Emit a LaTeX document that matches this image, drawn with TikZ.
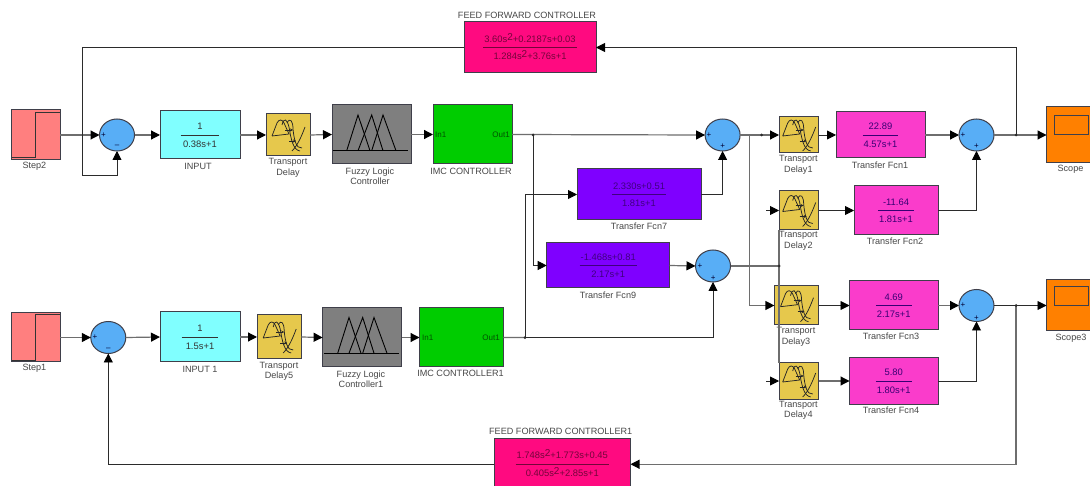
\documentclass[tikz,border=0pt]{standalone}
\usepackage{fontspec}
\setmainfont{Liberation Sans}
\usetikzlibrary{arrows.meta,shapes.geometric}
\definecolor{wiredark}{HTML}{2B2B2B}
\definecolor{wiresoft}{HTML}{6E6E6E}
\definecolor{edgec}{HTML}{3F3F4A}
\definecolor{stepc}{HTML}{FF7F7F}
\definecolor{sumc}{HTML}{58AEF6}
\definecolor{inputc}{HTML}{80FFFF}
\definecolor{delayc}{HTML}{E6C84C}
\definecolor{fuzzyc}{HTML}{7F7F7F}
\definecolor{imcc}{HTML}{00CC00}
\definecolor{ffc}{HTML}{FF0A80}
\definecolor{purc}{HTML}{7F00FF}
\definecolor{tfc}{HTML}{FA3CCB}
\definecolor{scopec}{HTML}{FF8000}
\tikzset{
  x=1pt,y=-1pt,
  blk/.style={draw=edgec,line width=1pt,rectangle,inner sep=0pt,outer sep=0pt,align=center,font=\fontsize{9.4}{11}\selectfont},
  stepb/.style={blk,fill=stepc},
  inputb/.style={blk,fill=inputc,text=black!80},
  delayb/.style={blk,fill=delayc},
  fuzzyb/.style={blk,fill=fuzzyc},
  imcb/.style={blk,fill=imcc,text=black!65!imcc},
  ffb/.style={blk,fill=ffc,text=black!55!ffc},
  purb/.style={blk,fill=purc,text=black!50!purc},
  tfb/.style={blk,fill=tfc,text=black!55!purc},
  scopeb/.style={blk,fill=scopec},
  sumb/.style={ellipse,draw=edgec,line width=1pt,fill=sumc,inner sep=0pt,outer sep=0pt,minimum width=35pt,minimum height=32pt},
  lab/.style={inner sep=0pt,text=black!72,align=center,font=\fontsize{9.1}{10.5}\selectfont},
  sgn/.style={inner sep=0pt,text=black!80!blue,font=\fontsize{8}{8}\selectfont},
  wire/.style={draw=wiredark,line width=.9pt},
  soft/.style={draw=wiresoft,line width=1.2pt},
  arr/.style={-{Triangle[length=9pt,width=9pt,black]}},
  jn/.style={circle,fill=wiredark,inner sep=0pt,minimum size=3pt},
  icon/.style={draw=black!85,line width=.75pt},
}
\newcommand{\blockat}[7]{\node[#2,minimum width={#5-#3},minimum height={#6-#4}] (#1) at ({(#3+#5)/2},{(#4+#6)/2}) {#7};}
\newcommand{\frc}[2]{{\renewcommand{\arraystretch}{1.55}\setlength{\tabcolsep}{1pt}\begin{tabular}{c}#1\\\hline #2\end{tabular}}}
\newcommand{\sq}{\raisebox{2pt}{\fontsize{10}{10}\selectfont 2}}
\newcommand{\delayicon}[2]{\begin{scope}[shift={(#1,#2)}]
  \draw[icon] (-16,1) -- (-11,-12) .. controls (-9,-16) and (-6,-16) .. (-4,-12) -- (1,-1) -- (-16,1);
  \draw[icon] (-6,-10) .. controls (-4,-18) and (-1,-16) .. (1,-8) .. controls (3,4) and (5,15) .. (12,16);
  \draw[icon] (-1,-12) .. controls (2,-18) and (5,-14) .. (5,-6) .. controls (6,4) and (8,14) .. (14,13);
  \draw[icon] (4,16) .. controls (10,10) and (14,0) .. (17,-8);
  \draw[icon,-{Stealth[length=3pt,width=3pt]}] (-3,-5) -- (5,-5);
  \draw[icon,-{Stealth[length=3pt,width=3pt]}] (1,6) -- (8,6);
\end{scope}}
\newcommand{\fuzzyicon}[2]{\begin{scope}[shift={(#1,#2)}]
  \draw[black,line width=.9pt] (-38,15.7) -- (37,15.7);
  \draw[black,line width=.9pt] (-24.3,15.7) -- (-13,-20) -- (-1,15.7);
  \draw[black,line width=.9pt] (-13,15.7) -- (0.7,-20) -- (12,15.7);
  \draw[black,line width=.9pt] (0.7,15.7) -- (12,-20) -- (25,15.7);
\end{scope}}
\begin{document}
\begin{tikzpicture}
\useasboundingbox (0,0) rectangle (1090,486);
\clip (0,0) rectangle (1090,486);
\fill[white] (0,0) rectangle (1090,486);

% top row
\blockat{stepA}{stepb}{11.5}{110}{60}{160}{}
\node[sumb] (sumA) at (117,135) {};
\blockat{inputA}{inputb}{160}{111}{240}{159}{\frc{1}{\,0.38s+1\,}}
\blockat{tdA}{delayb}{266}{114}{310}{156}{}
\blockat{fuzzyA}{fuzzyb}{332}{105}{411}{164}{}
\blockat{imcA}{imcb}{433}{105}{512}{164}{}
\node[inner sep=0pt,text=black!60!imcc,font=\fontsize{8}{9}\selectfont,anchor=west] (inA) at (435,134.5) {In1};
\node[inner sep=0pt,text=black!60!imcc,font=\fontsize{8}{9}\selectfont,anchor=east] (outA) at (510,134.5) {Out1};
\blockat{ffA}{ffb}{464}{22}{596}{73}{\frc{3.60s\sq+0.2187s+0.03}{1.284s\sq+3.76s+1}}

% right top
\node[sumb] (sumB) at (722.6,135) {};
\blockat{tdB}{delayb}{779}{117}{818.5}{153}{}
\blockat{tfA}{tfb}{836}{112}{925}{158}{\frc{22.89}{4.57s+1}}
\node[sumb] (sumC) at (976.5,135) {};
\blockat{scopeA}{scopeb}{1046.5}{107}{1094}{163}{}
\blockat{purA}{purb}{577}{169}{701}{220}{\frc{2.330s+0.51}{1.81s+1}}
\blockat{tdC}{delayb}{779}{191}{818.5}{230}{}
\blockat{tfB}{tfb}{854}{186}{938}{235}{\frc{-11.64}{1.81s+1}}

% middle
\blockat{purB}{purb}{546.7}{243}{669.7}{288}{\frc{-1.468s+0.81}{2.17s+1}}
\node[sumb] (sumD) at (713,266) {};
\blockat{tdD}{delayb}{774.4}{286}{818.5}{325}{}
\blockat{tfC}{tfb}{849.5}{281}{938}{330}{\frc{4.69}{2.17s+1}}
\node[sumb] (sumE) at (976.5,305.5) {};
\blockat{scopeB}{scopeb}{1046.5}{280}{1094}{331}{}
\blockat{tdE}{delayb}{779}{363}{818.5}{399}{}
\blockat{tfD}{tfb}{849.5}{358}{938}{404}{\frc{5.80}{1.80s+1}}

% bottom row
\blockat{stepB}{stepb}{11.5}{313}{60}{362}{}
\node[sumb] (sumF) at (108.3,337.5) {};
\blockat{inputB}{inputb}{160}{312}{240}{362}{\frc{1}{\,\,1.5s+1\,\,}}
\blockat{tdF}{delayb}{257}{315}{301.4}{359}{}
\blockat{fuzzyB}{fuzzyb}{322.6}{308}{401.8}{367}{}
\blockat{imcB}{imcb}{419.5}{308}{503.3}{367}{}
\node[inner sep=0pt,text=black!60!imcc,font=\fontsize{8}{9}\selectfont,anchor=west] (inB) at (422,337.5) {In1};
\node[inner sep=0pt,text=black!60!imcc,font=\fontsize{8}{9}\selectfont,anchor=east] (outB) at (500,337.5) {Out1};
\blockat{ffB}{ffb}{494}{438}{630.5}{490.5}{\frc{1.748s\sq+1.773s+0.45}{0.405s\sq+2.85s+1}}

% icons
\draw[black!80,line width=.9pt] (11.5,157.5) -- (35.5,157.5) -- (35.5,112) -- (60,112);
\draw[black!80,line width=.9pt] (11.5,360) -- (35.5,360) -- (35.5,314.5) -- (60,314.5);
\delayicon{288}{135}\delayicon{798.7}{135}\delayicon{798.7}{210.5}\delayicon{796.5}{305.7}\delayicon{798.7}{381}\delayicon{279.2}{337}
\fuzzyicon{371}{135}\fuzzyicon{362}{337.5}
\draw[edgec,line width=1pt] (1054,116) rectangle (1088,135);
\draw[edgec,line width=1pt] (1054,287) rectangle (1088,305.7);

% sum signs
\node[sgn] (sa1) at (103.5,135) {+};
\node[sgn] (sa2) at (117,146) {--};
\node[sgn] (sb1) at (709,135) {+};
\node[sgn] (sb2) at (722.6,146.5) {+};
\node[sgn] (sc1) at (963,135) {+};
\node[sgn] (sc2) at (976.5,146.5) {+};
\node[sgn] (sd1) at (700,266) {+};
\node[sgn] (sd2) at (713.3,278) {+};
\node[sgn] (se1) at (963,305.5) {+};
\node[sgn] (se2) at (976.5,318) {+};
\node[sgn] (sf1) at (95,337.5) {+};
\node[sgn] (sf2) at (108.3,349.5) {--};

% labels
\node[lab] (lstepA) at (34.4,166) {Step2};
\node[lab] (linA) at (198,166) {INPUT};
\node[lab] (ltdA) at (288,167.7) {Transport\\Delay};
\node[lab] (lfzA) at (370,176.3) {Fuzzy Logic\\Controller};
\node[lab] (limA) at (471,171) {IMC CONTROLLER};
\node[lab] (lffA) at (527,15) {FEED FORWARD CONTROLLER};
\node[lab] (ltdB) at (798.4,165) {Transport\\Delay1};
\node[lab] (ltfA) at (880,165) {Transfer Fcn1};
\node[lab] (lscA) at (1070.5,169) {Scope};
\node[lab] (lpuA) at (639,226) {Transfer Fcn7};
\node[lab] (ltdC) at (798.4,241) {Transport\\Delay2};
\node[lab] (ltfB) at (895,241) {Transfer Fcn2};
\node[lab] (lpuB) at (608,295) {Transfer Fcn9};
\node[lab] (ltdD) at (796,337) {Transport\\Delay3};
\node[lab] (ltfC) at (891,336) {Transfer Fcn3};
\node[lab] (lscB) at (1071,338) {Scope3};
\node[lab] (ltdE) at (798.4,410.5) {Transport\\Delay4};
\node[lab] (ltfD) at (891,410.7) {Transfer Fcn4};
\node[lab] (lstepB) at (34.4,368.7) {Step1};
\node[lab] (linB) at (200,369) {INPUT 1};
\node[lab] (ltdF) at (279,371.5) {Transport\\Delay5};
\node[lab] (lfzB) at (361,379) {Fuzzy Logic\\Controller1};
\node[lab] (limB) at (460.5,373.7) {IMC CONTROLLER1};
\node[lab] (lffB) at (560.7,431) {FEED FORWARD CONTROLLER1};

% junctions
\coordinate (jA) at (533,135);
\coordinate (jB) at (761.7,135);
\coordinate (jBd) at (749.3,135);
\coordinate (jC) at (1016,135);
\coordinate (jD) at (525,337.6);
\coordinate (jE) at (779,266);
\coordinate (jF) at (1016,305.5);
\coordinate (tfbIn) at (766,210.5);
\coordinate (tfdIn) at (766,381);
\coordinate (cfA) at (82,47.5);
\coordinate (cfB) at (82,175);
\coordinate (cfC) at (117,175);
\coordinate (vTop) at (779,230);
\coordinate (vBot) at (779,363);

% wires: top row
\draw[soft,arr] (stepA.east) -- (sumA.west);
\draw[soft,arr] (sumA.east) -- (inputA.west);
\draw[soft,arr] (inputA.east) -- (tdA.west);
\draw[soft,arr] (tdA.east) -- (fuzzyA.west);
\draw[soft,arr] (fuzzyA.east) -- (imcA.west);
\draw[soft,arr] (imcA.east) -- (sumB.west);
\draw[soft] (sumB.east) -- (jB);
\draw[soft,arr] (jB) -- (tdB.west);
\draw[wire,arr] (tdB.east) -- (tfA.west);
\draw[soft,arr] (tfA.east) -- (sumC.west);
\draw[soft,arr] (sumC.east) -- (scopeA.west |- sumC);
\draw[wire,arr] (ffA.west) -- (cfA) -- (cfB) -- (cfC) -- (sumA.south);
\draw[wire,arr] (jC) -- (jC |- ffA) -- (ffA.east);
\draw[wire,arr] (jA) |- (purB.west);
\draw[wire,arr] (purA.east) -| (sumB.south);
\draw[wire,arr] (jD) |- (purA.west);
\draw[wire,arr] (jD) -| (sumD.south);
\draw[soft,arr] (purB.east) -- (sumD.west);
\draw[soft] (sumD.east) -- (jE);
\draw[soft] (vTop) -- (vBot);
\draw[soft,arr] (jBd) |- (tdD.west);
\draw[wire,arr] (tfbIn) -- (tdC.west);
\draw[wire,arr] (tfdIn) -- (tdE.west);
\draw[wire,arr] (tdC.east) -- (tfB.west);
\draw[wire,arr] (tfB.east) -| (sumC.south);
\draw[wire,arr] (tdD.east) -- (tfC.west);
\draw[soft,arr] (tfC.east) -- (sumE.west);
\draw[wire,arr] (sumE.east) -- (scopeB.west |- sumE);
\draw[soft,arr] (tdE.east) -- (tfD.west);
\draw[wire,arr] (tfD.east) -| (sumE.south);
\draw[soft,arr] (jF) |- (ffB.east);

% wires: bottom row
\draw[soft,arr] (stepB.east) -- (sumF.west);
\draw[soft,arr] (sumF.east) -- (inputB.west);
\draw[soft,arr] (inputB.east) -- (tdF.west);
\draw[soft,arr] (tdF.east) -- (fuzzyB.west);
\draw[soft,arr] (fuzzyB.east) -- (imcB.west);
\draw[soft] (imcB.east) -- (jD);
\draw[wire,arr] (ffB.west) -| (sumF.south);

% dots
\foreach \j/\n in {jA/da,jB/db,jC/dc,jD/dd,jE/de,jF/df} \node[jn] (\n) at (\j) {};
\end{tikzpicture}
\end{document}
